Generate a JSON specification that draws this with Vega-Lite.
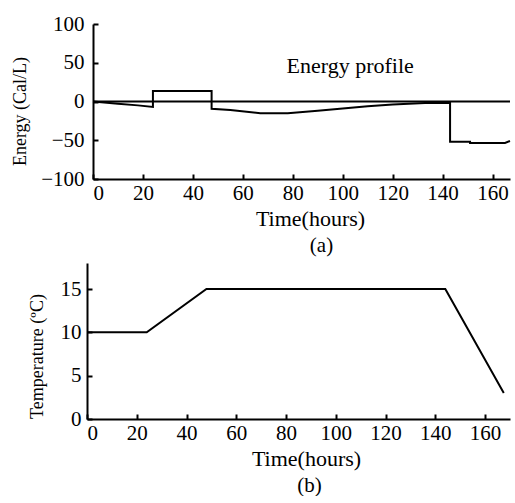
{
  "$schema": "https://vega.github.io/schema/vega-lite/v6.json",
  "background": "white",
  "padding": {"left": 11, "top": 13, "right": 0, "bottom": 0},
  "center": true,
  "spacing": 7,
  "config": {
    "font": "Liberation Serif",
    "view": {"stroke": null},
    "axis": {
      "labelFont": "Liberation Serif",
      "titleFont": "Liberation Serif",
      "labelFontSize": 21,
      "titleFontSize": 22,
      "titleFontWeight": "normal",
      "labelColor": "black",
      "titleColor": "black",
      "domainColor": "black",
      "tickColor": "black",
      "domainWidth": 2,
      "tickWidth": 2,
      "tickSize": -5,
      "labelOverlap": false,
      "grid": false
    },
    "title": {"font": "Liberation Serif", "fontSize": 21, "fontWeight": "normal", "color": "black"}
  },
  "vconcat": [
    {
      "width": 417,
      "height": 155,
      "title": {"text": "(a)", "orient": "bottom", "dx": 20, "offset": 6},
      "encoding": {
        "x": {"field": "t", "type": "quantitative", "scale": {"domain": [0, 167], "nice": false},
              "axis": {"values": [0, 20, 40, 60, 80, 100, 120, 140, 160], "title": "Time(hours)", "labelOverlap": false, "labelPadding": 8, "titleX": 217, "titlePadding": 5}},
        "y": {"field": "e", "type": "quantitative", "scale": {"domain": [-100, 100], "nice": false},
              "axis": {"values": [-100, -50, 0, 50, 100], "title": "Energy (Cal/L)", "labelOverlap": false, "titleFontSize": 18, "labelPadding": 14, "titleY": 87, "titlePadding": 11}}
      },
      "layer": [
        {
          "data": {"values": [
            {"t": 0, "e": 0, "s": "profile"},
            {"t": 10, "e": -3, "s": "profile"},
            {"t": 18, "e": -5, "s": "profile"},
            {"t": 24, "e": -7, "s": "profile"},
            {"t": 24, "e": 13.5, "s": "profile"},
            {"t": 47.5, "e": 13.5, "s": "profile"},
            {"t": 47.5, "e": -9.5, "s": "profile"},
            {"t": 55, "e": -11, "s": "profile"},
            {"t": 67, "e": -15, "s": "profile"},
            {"t": 78, "e": -15, "s": "profile"},
            {"t": 90, "e": -12, "s": "profile"},
            {"t": 100, "e": -9, "s": "profile"},
            {"t": 110, "e": -6, "s": "profile"},
            {"t": 120, "e": -4, "s": "profile"},
            {"t": 133, "e": -2, "s": "profile"},
            {"t": 143, "e": -1.5, "s": "profile"},
            {"t": 143, "e": -52, "s": "profile"},
            {"t": 151, "e": -52, "s": "profile"},
            {"t": 151, "e": -53.5, "s": "profile"},
            {"t": 165, "e": -53.5, "s": "profile"},
            {"t": 167, "e": -51, "s": "profile"},
            {"t": 0, "e": 0, "s": "zero"},
            {"t": 167, "e": 0, "s": "zero"}
          ]},
          "mark": {"type": "line", "color": "black", "strokeWidth": 2},
          "encoding": {
            "detail": {"field": "s"},
            "order": {"field": "t"}
          }
        },
        {
          "data": {"values": [{"t": 103, "e": 46, "label": "Energy profile"}]},
          "mark": {"type": "text", "font": "Liberation Serif", "fontSize": 22, "color": "black"},
          "encoding": {
            "text": {"field": "label"}
          }
        }
      ]
    },
    {
      "spacing": 9,
      "hconcat": [
        {
          "width": 423,
          "height": 156,
          "title": {"text": "(b)", "orient": "bottom", "dx": 11, "offset": 6},
          "data": {"values": [
            {"t": 0, "temp": 10},
            {"t": 24, "temp": 10},
            {"t": 48, "temp": 15},
            {"t": 144, "temp": 15},
            {"t": 167.5, "temp": 3}
          ]},
          "mark": {"type": "line", "color": "black", "strokeWidth": 2},
          "encoding": {
            "x": {"field": "t", "type": "quantitative", "scale": {"domain": [0, 170], "nice": false},
                  "axis": {"values": [0, 20, 40, 60, 80, 100, 120, 140, 160], "title": "Time(hours)", "labelOverlap": false, "labelPadding": 8, "titleX": 219, "titlePadding": 5}},
            "y": {"field": "temp", "type": "quantitative", "scale": {"domain": [0, 18], "nice": false},
                  "axis": {"values": [0, 5, 10, 15], "title": "Temperature (ºC)", "labelOverlap": false, "titleFontSize": 18, "labelPadding": 11, "titleY": 93, "titlePadding": 14}}
          }
        },
        {
          "width": 1,
          "height": 1,
          "data": {"values": []},
          "mark": "point"
        }
      ]
    }
  ]
}
